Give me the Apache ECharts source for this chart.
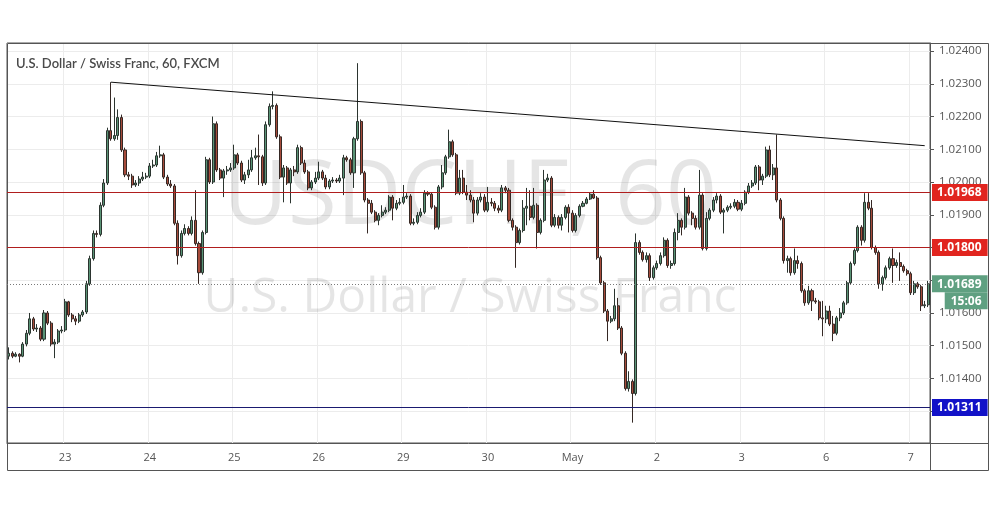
<!DOCTYPE html>
<html>
<head>
<meta charset="utf-8">
<title>USDCHF 60</title>
<script src="https://cdn.jsdelivr.net/npm/echarts@6/dist/echarts.min.js"></script>
<style>
  html, body { margin: 0; padding: 0; background: #fff; }
  #chart { width: 995px; height: 507px; }
</style>
</head>
<body>
<div id="chart"></div>
<script>
// hourly bars, rows are [open, close, low, high]
const apr22 = [
  [1.01468,1.01477,1.01458,1.01495],[1.01477,1.01468,1.01462,1.01483],[1.01468,1.01474,1.01465,1.01480],[1.01474,1.01468,1.01449,1.01477],
  [1.01468,1.01505,1.01465,1.01511],[1.01505,1.01538,1.01498,1.01548],[1.01538,1.01582,1.01532,1.01600],[1.01582,1.01551,1.01545,1.01588],
  [1.01551,1.01554,1.01542,1.01566],[1.01554,1.01520,1.01514,1.01560],[1.01520,1.01600,1.01514,1.01609],[1.01600,1.01569,1.01563,1.01606],
  [1.01569,1.01505,1.01498,1.01575],[1.01505,1.01511,1.01462,1.01520],[1.01511,1.01545,1.01505,1.01551],[1.01545,1.01548,1.01538,1.01560]
];
const apr23 = [
  [1.01548,1.01634,1.01542,1.01643],[1.01634,1.01594,1.01588,1.01637],[1.01594,1.01582,1.01572,1.01600],[1.01582,1.01575,1.01563,1.01591],
  [1.01575,1.01594,1.01569,1.01600],[1.01594,1.01603,1.01588,1.01609],[1.01603,1.01689,1.01597,1.01698],[1.01689,1.01766,1.01683,1.01775],
  [1.01766,1.01843,1.01760,1.01852],[1.01843,1.01840,1.01831,1.01852],[1.01840,1.01929,1.01834,1.01938],[1.01929,1.01997,1.01923,1.02009],
  [1.01997,1.02157,1.01991,1.02166],[1.02157,1.02132,1.02126,1.02305],[1.02132,1.02142,1.02126,1.02258],[1.02142,1.02197,1.02129,1.02222],
  [1.02197,1.02098,1.02092,1.02206],[1.02098,1.02022,1.02015,1.02105],[1.02022,1.02018,1.02006,1.02031],[1.02018,1.01991,1.01982,1.02025],
  [1.01991,1.01997,1.01985,1.02006],[1.01997,1.02009,1.01988,1.02018],[1.02009,1.02015,1.02003,1.02031],[1.02015,1.02018,1.02009,1.02028]
];
const apr24 = [
  [1.02018,1.02049,1.02012,1.02058],[1.02049,1.02052,1.02043,1.02068],[1.02052,1.02080,1.02046,1.02092],[1.02080,1.02083,1.02074,1.02111],
  [1.02083,1.02015,1.02009,1.02089],[1.02015,1.01994,1.01988,1.02022],[1.01994,1.01988,1.01982,1.02006],[1.01988,1.01874,1.01868,1.01994],
  [1.01874,1.01775,1.01748,1.01883],[1.01775,1.01843,1.01769,1.01852],[1.01843,1.01858,1.01837,1.01871],[1.01858,1.01843,1.01837,1.01865],
  [1.01843,1.01883,1.01837,1.01895],[1.01883,1.01812,1.01806,1.01975],[1.01812,1.01723,1.01689,1.01818],[1.01723,1.01846,1.01717,1.01852],
  [1.01846,1.02068,1.01840,1.02077],[1.02068,1.02000,1.01994,1.02074],[1.02000,1.02178,1.01994,1.02200],[1.02178,1.02037,1.02031,1.02185],
  [1.02037,1.02012,1.02006,1.02043],[1.02012,1.02034,1.01954,1.02040],[1.02034,1.02037,1.02022,1.02049],[1.02037,1.02043,1.02031,1.02058]
];
const apr25 = [
  [1.02043,1.02083,1.02037,1.02114],[1.02083,1.02058,1.02052,1.02089],[1.02058,1.02006,1.02000,1.02065],[1.02006,1.02022,1.01994,1.02031],
  [1.02022,1.02037,1.02012,1.02068],[1.02037,1.02074,1.02031,1.02098],[1.02074,1.02080,1.02068,1.02105],[1.02080,1.02077,1.01991,1.02145],
  [1.02077,1.01997,1.01988,1.02083],[1.01997,1.02175,1.01991,1.02185],[1.02175,1.02231,1.02169,1.02240],[1.02231,1.02234,1.02222,1.02277],
  [1.02234,1.02138,1.02132,1.02240],[1.02138,1.02015,1.02009,1.02145],[1.02015,1.02043,1.01938,1.02052],[1.02043,1.01997,1.01991,1.02049],
  [1.01997,1.02037,1.01935,1.02043],[1.02037,1.02031,1.02018,1.02049],[1.02031,1.02105,1.02025,1.02114],[1.02105,1.02058,1.02052,1.02111],
  [1.02058,1.02031,1.02025,1.02068],[1.02031,1.01982,1.01975,1.02037],[1.01982,1.02000,1.01975,1.02006],[1.02000,1.02012,1.01994,1.02031]
];
const apr26 = [
  [1.02012,1.02031,1.02006,1.02062],[1.02031,1.02012,1.02006,1.02037],[1.02012,1.01985,1.01978,1.02022],[1.01985,1.02003,1.01978,1.02009],
  [1.02003,1.02006,1.01997,1.02015],[1.02006,1.02003,1.01997,1.02012],[1.02003,1.02012,1.01997,1.02022],[1.02012,1.02074,1.01960,1.02083],
  [1.02074,1.02068,1.02062,1.02080],[1.02068,1.02028,1.02022,1.02074],[1.02028,1.02132,1.01982,1.02138],[1.02132,1.02185,1.02126,1.02363],
  [1.02185,1.02028,1.02022,1.02191],[1.02028,1.01945,1.01938,1.02034],[1.01945,1.01935,1.01843,1.01951],[1.01935,1.01908,1.01902,1.01945],
  [1.01908,1.01883,1.01877,1.01914],[1.01883,1.01898,1.01868,1.01905],[1.01898,1.01908,1.01892,1.01929],[1.01908,1.01914,1.01902,1.01923],
  [1.01914,1.01954,1.01908,1.01960],[1.01954,1.01920,1.01883,1.01960],[1.01920,1.01935,1.01914,1.01945],[1.01935,1.01938,1.01929,1.01951]
];
const apr29 = [
  [1.01938,1.01954,1.01932,1.01991],[1.01954,1.01957,1.01948,1.01966],[1.01957,1.01874,1.01868,1.01963],[1.01874,1.01877,1.01868,1.01889],
  [1.01877,1.01898,1.01871,1.01908],[1.01898,1.01908,1.01892,1.01920],[1.01908,1.01966,1.01902,1.01975],[1.01966,1.01963,1.01957,1.01972],
  [1.01963,1.01923,1.01917,1.01969],[1.01923,1.01862,1.01855,1.01929],[1.01862,1.01985,1.01855,1.01991],[1.01985,1.02028,1.01978,1.02052],
  [1.02028,1.02077,1.02022,1.02083],[1.02077,1.02123,1.02071,1.02160],[1.02123,1.02083,1.02077,1.02129],[1.02083,1.01966,1.01960,1.02089],
  [1.01966,1.02012,1.01960,1.02037],[1.02012,1.01969,1.01963,1.02037],[1.01969,1.01960,1.01945,1.01991],[1.01960,1.01945,1.01938,1.01975],
  [1.01945,1.01905,1.01877,1.01954],[1.01905,1.01945,1.01898,1.01954],[1.01945,1.01954,1.01938,1.01966],[1.01954,1.01914,1.01908,1.01963]
];
const apr30 = [
  [1.01914,1.01938,1.01908,1.01985],[1.01938,1.01935,1.01926,1.01951],[1.01935,1.01920,1.01911,1.01942],[1.01920,1.01914,1.01905,1.01929],
  [1.01914,1.01982,1.01908,1.01991],[1.01982,1.01975,1.01966,1.01988],[1.01975,1.01883,1.01877,1.01982],[1.01883,1.01862,1.01852,1.01889],
  [1.01862,1.01815,1.01738,1.01868],[1.01815,1.01852,1.01809,1.01858],[1.01852,1.01920,1.01846,1.01945],[1.01920,1.01926,1.01868,1.01982],
  [1.01926,1.01892,1.01883,1.01975],[1.01892,1.01929,1.01886,1.01982],[1.01929,1.01846,1.01797,1.01935],[1.01846,1.01883,1.01840,1.01889],
  [1.01883,1.02006,1.01877,1.02037],[1.02006,1.02012,1.02000,1.02025],[1.02012,1.01868,1.01862,1.02018],[1.01868,1.01892,1.01862,1.01902],
  [1.01892,1.01868,1.01858,1.01898],[1.01868,1.01892,1.01852,1.01902],[1.01892,1.01923,1.01886,1.01929],[1.01923,1.01905,1.01846,1.01932]
];
const may1 = [
  [1.01905,1.01852,1.01846,1.01914],[1.01852,1.01898,1.01846,1.01905],[1.01898,1.01926,1.01892,1.01932],[1.01926,1.01935,1.01923,1.01942],
  [1.01935,1.01948,1.01932,1.01954],[1.01948,1.01963,1.01945,1.01969],[1.01963,1.01951,1.01948,1.01975],[1.01951,1.01769,1.01763,1.01957],
  [1.01769,1.01692,1.01686,1.01775],[1.01692,1.01606,1.01600,1.01698],[1.01606,1.01575,1.01514,1.01612],[1.01575,1.01582,1.01569,1.01591],
  [1.01582,1.01622,1.01575,1.01674],[1.01622,1.01554,1.01548,1.01646],[1.01554,1.01477,1.01471,1.01560],[1.01477,1.01369,1.01363,1.01483],
  [1.01369,1.01391,1.01360,1.01422],[1.01391,1.01354,1.01265,1.01397],[1.01354,1.01815,1.01348,1.01843],[1.01815,1.01785,1.01778,1.01822],
  [1.01785,1.01763,1.01757,1.01791],[1.01763,1.01775,1.01754,1.01785],[1.01775,1.01708,1.01698,1.01782],[1.01708,1.01738,1.01702,1.01745]
];
const may2 = [
  [1.01738,1.01751,1.01732,1.01760],[1.01751,1.01775,1.01745,1.01785],[1.01775,1.01822,1.01769,1.01831],[1.01822,1.01745,1.01738,1.01828],
  [1.01745,1.01751,1.01735,1.01760],[1.01751,1.01846,1.01745,1.01858],[1.01846,1.01883,1.01822,1.01905],[1.01883,1.01862,1.01837,1.01889],
  [1.01862,1.01954,1.01855,1.01982],[1.01954,1.01905,1.01898,1.01960],[1.01905,1.01889,1.01868,1.01911],[1.01889,1.01862,1.01855,1.01898],
  [1.01862,1.01960,1.01855,1.02037],[1.01960,1.01797,1.01791,1.01966],[1.01797,1.01889,1.01791,1.01908],[1.01889,1.01914,1.01883,1.01920],
  [1.01914,1.01945,1.01908,1.01954],[1.01945,1.01957,1.01935,1.01966],[1.01957,1.01908,1.01902,1.01963],[1.01908,1.01914,1.01843,1.01920],
  [1.01914,1.01923,1.01908,1.01929],[1.01923,1.01926,1.01917,1.01935],[1.01926,1.01938,1.01920,1.01948],[1.01938,1.01917,1.01911,1.01945]
];
const may3 = [
  [1.01917,1.01935,1.01911,1.01945],[1.01935,1.01969,1.01929,1.01975],[1.01969,1.01988,1.01963,1.01997],[1.01988,1.01997,1.01982,1.02006],
  [1.01997,1.02046,1.01991,1.02052],[1.02046,1.02006,1.01975,1.02052],[1.02006,1.02018,1.01991,1.02025],[1.02018,1.02098,1.02012,1.02108],
  [1.02098,1.02022,1.02015,1.02111],[1.02022,1.02043,1.02006,1.02055],[1.02043,1.01945,1.01938,1.02145],[1.01945,1.01889,1.01883,1.01951],
  [1.01889,1.01760,1.01751,1.01895],[1.01760,1.01766,1.01723,1.01775],[1.01766,1.01723,1.01714,1.01772],[1.01723,1.01760,1.01717,1.01797],
  [1.01760,1.01751,1.01735,1.01775],[1.01751,1.01668,1.01662,1.01757],[1.01668,1.01631,1.01622,1.01674],[1.01631,1.01668,1.01625,1.01683],
  [1.01668,1.01637,1.01606,1.01674],[1.01637,1.01634,1.01628,1.01646],[1.01634,1.01585,1.01578,1.01640],[1.01585,1.01582,1.01529,1.01637]
];
const may6 = [
  [1.01582,1.01606,1.01569,1.01622],[1.01606,1.01566,1.01560,1.01622],[1.01566,1.01538,1.01514,1.01591],[1.01538,1.01585,1.01532,1.01591],
  [1.01585,1.01600,1.01575,1.01615],[1.01600,1.01631,1.01594,1.01637],[1.01631,1.01692,1.01625,1.01698],[1.01692,1.01751,1.01686,1.01757],
  [1.01751,1.01791,1.01745,1.01797],[1.01791,1.01862,1.01785,1.01868],[1.01862,1.01822,1.01806,1.01868],[1.01822,1.01938,1.01815,1.01966],
  [1.01938,1.01920,1.01914,1.01966],[1.01920,1.01800,1.01794,1.01945],[1.01800,1.01785,1.01778,1.01806],[1.01785,1.01689,1.01674,1.01791],
  [1.01689,1.01708,1.01668,1.01714],[1.01708,1.01738,1.01702,1.01745],[1.01738,1.01766,1.01732,1.01772],[1.01766,1.01745,1.01692,1.01797],
  [1.01745,1.01754,1.01738,1.01763],[1.01754,1.01742,1.01698,1.01785],[1.01742,1.01729,1.01723,1.01748],[1.01729,1.01720,1.01714,1.01735]
];
const may7 = [
  [1.01720,1.01662,1.01655,1.01726],[1.01662,1.01689,1.01655,1.01698],[1.01689,1.01680,1.01674,1.01695],[1.01680,1.01622,1.01606,1.01686],
  [1.01622,1.01625,1.01615,1.01637],[1.01625,1.01689,1.01618,1.01698]
];

const dayLabels = ['22', '23', '24', '25', '26', '29', '30', 'May', '2', '3', '6', '7'];
const dayBars = [apr22, apr23, apr24, apr25, apr26, apr29, apr30, may1, may2, may3, may6, may7];

const resistanceHigh = 1.01968;
const resistanceLow = 1.01800;
const supportLevel = 1.01311;
const lastPrice = 1.01689;
const countdown = '15:06';
// falling trend line: [bar index, price]
const trendStart = [29, 1.02305];
const trendEnd = [260, 1.02111];

const categories = [];
const bars = [];
dayBars.forEach((rows, d) => {
  const h0 = d === 0 ? 24 - rows.length : 0;
  rows.forEach((r, k) => {
    categories.push(dayLabels[d] + ' ' + String(h0 + k).padStart(2, '0') + ':00');
    bars.push(r);
  });
});
const isDayStart = (idx) => categories[idx] && categories[idx].endsWith(' 00:00');

function boxLabel(value, bg) {
  return {
    show: true,
    position: 'end',
    distance: 2,
    formatter: value.toFixed(5),
    color: '#fff',
    fontWeight: 'bold',
    fontSize: 12,
    backgroundColor: bg,
    padding: [3, 6, 2, 5]
  };
}
// each level line is its own markLine item with its own style
function levelItem(value, lineColor, boxColor) {
  return {
    yAxis: value,
    lineStyle: { color: lineColor, width: 1, type: 'solid', opacity: 1 },
    emphasis: { disabled: true },
    label: boxLabel(value, boxColor)
  };
}

const chart = echarts.init(document.getElementById('chart'));
const font = '"Open Sans", sans-serif';

chart.setOption({
  animation: false,
  backgroundColor: '#fff',
  textStyle: { fontFamily: font },
  title: {
    text: 'U.S. Dollar / Swiss Franc, 60, FXCM',
    left: 11,
    top: 52,
    textStyle: { fontSize: 13, fontWeight: 600, color: '#4a4a4a', fontFamily: 'Lato, sans-serif' }
  },
  grid: { left: 7, right: 65, top: 43, bottom: 64, show: true, borderColor: '#555', borderWidth: 1 },
  graphic: [
    {
      type: 'text', z: 1, silent: true,
      style: { text: 'USDCHF, 60', x: 470, y: 199, textAlign: 'center', textVerticalAlign: 'middle',
               font: '89px "Open Sans", sans-serif', fill: 'rgba(0,0,0,0.1)' }
    },
    {
      type: 'text', z: 1, silent: true,
      style: { text: 'U.S. Dollar / Swiss Franc', x: 470, y: 298, textAlign: 'center', textVerticalAlign: 'middle',
               font: '48px "Open Sans", sans-serif', fill: 'rgba(0,0,0,0.1)' }
    },
    {
      type: 'rect', z: 5, silent: true,
      shape: { x: 7.5, y: 43.5, width: 981, height: 427 },
      style: { fill: 'none', stroke: '#555', lineWidth: 1 }
    },
    {
      type: 'line', z: 5, silent: true,
      shape: { x1: 930.5, y1: 443, x2: 930.5, y2: 470 },
      style: { stroke: '#555', lineWidth: 1 }
    },
    {
      type: 'line', z: 5, silent: true,
      shape: { x1: 930, y1: 443.5, x2: 988, y2: 443.5 },
      style: { stroke: '#555', lineWidth: 1 }
    }
  ],
  xAxis: {
    type: 'category',
    data: categories,
    boundaryGap: true,
    axisLine: { lineStyle: { color: '#555' } },
    axisTick: { interval: (i) => isDayStart(i), alignWithLabel: true, length: 4, lineStyle: { color: '#555' } },
    axisLabel: { interval: (i) => isDayStart(i), formatter: (v) => v.split(' ')[0], color: '#555', fontSize: 11, margin: 9 },
    splitLine: { show: true, interval: (i) => isDayStart(i), lineStyle: { color: '#ececec' } }
  },
  yAxis: {
    type: 'value',
    position: 'right',
    scale: true,
    // extent chosen so the level lines fall on whole pixel rows
    min: 1.0120284,
    max: 1.0242466,
    splitNumber: 12,
    axisLine: { show: true, lineStyle: { color: '#555' } },
    axisTick: { show: true, length: 4, lineStyle: { color: '#555' } },
    axisLabel: {
      color: '#555', fontSize: 11.5, margin: 9, showMinLabel: false, showMaxLabel: false,
      formatter: (v) => (v < 1.0125 || v > 1.0245) ? '' : v.toFixed(5)
    },
    splitLine: { lineStyle: { color: '#ececec' } }
  },
  series: [{
    type: 'candlestick',
    data: bars,
    barWidth: '72%',
    itemStyle: {
      color: '#5a9476',
      color0: '#a64b3b',
      borderColor: '#2b342f',
      borderColor0: '#352824',
      borderWidth: 1
    },
    markLine: {
      silent: true,
      symbol: ['none', 'none'],
      precision: 5,
      animation: false,
      data: [
        levelItem(resistanceHigh, '#b01e1e', '#e1251f'),
        levelItem(resistanceLow, '#b01e1e', '#e1251f'),
        levelItem(supportLevel, '#1a1a70', '#1212c8'),
        {
          yAxis: lastPrice,
          lineStyle: { color: '#7a7a7a', width: 1, type: [1, 2] },
          label: {
            show: true,
            position: 'end',
            distance: 2,
            formatter: '{e|}\n{p|' + lastPrice.toFixed(5) + '}\n{t|' + countdown + '}',
            rich: {
              e: { height: 17 },
              p: { backgroundColor: '#5fa081', color: '#fff', fontWeight: 'bold', fontSize: 12, padding: [3, 6, 2, 5] },
              t: { backgroundColor: '#5fa081', color: '#fff', fontWeight: 'bold', fontSize: 12, padding: [3, 6, 2, 6], align: 'right' }
            }
          }
        },
        [
          { coord: trendStart, lineStyle: { color: '#111', width: 1, type: 'solid' }, label: { show: false } },
          { coord: trendEnd }
        ]
      ]
    }
  }]
});
</script>
</body>
</html>
